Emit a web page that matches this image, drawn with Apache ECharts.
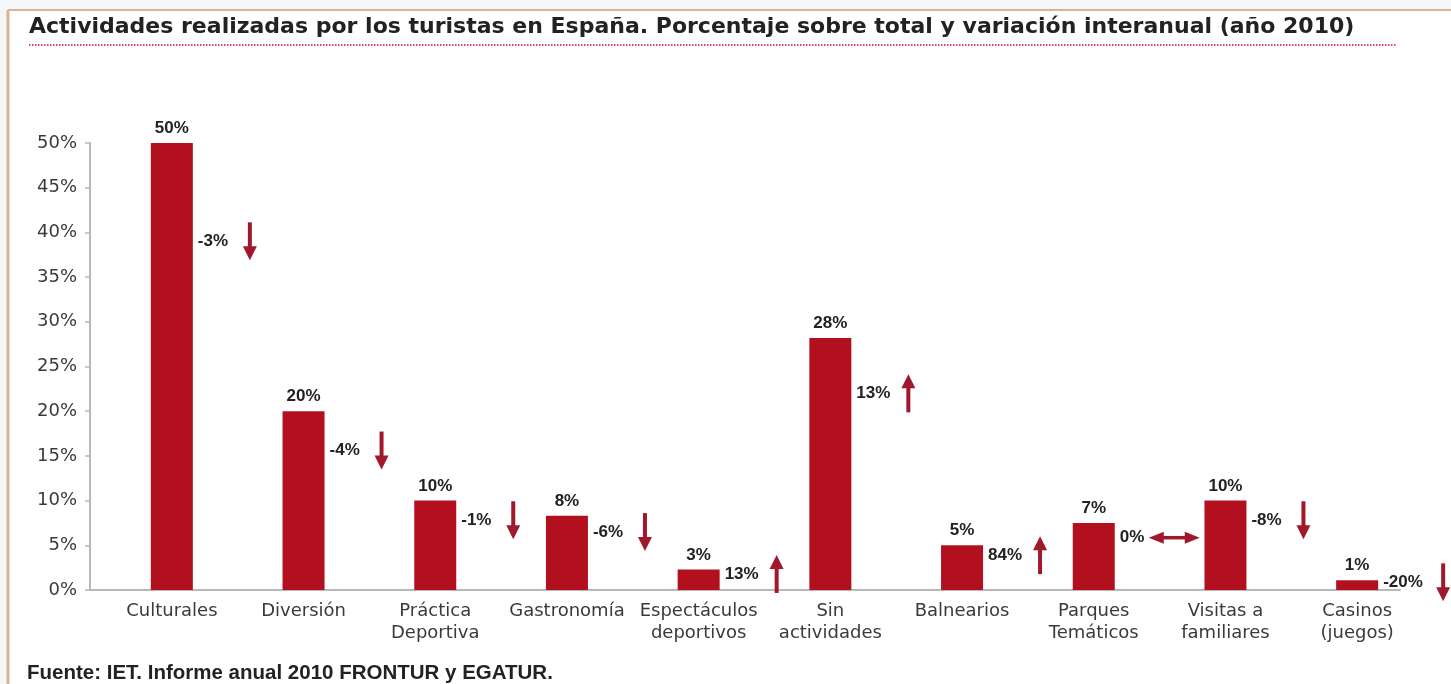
<!DOCTYPE html>
<html><head><meta charset="utf-8">
<script src="https://cdn.jsdelivr.net/npm/echarts@6/dist/echarts.min.js"></script>
<style>html,body{margin:0;padding:0;background:#fff}#c{width:1451px;height:684px}</style>
</head><body><div id="c"></div>
<script>
const categories = ['Culturales','Diversión','Práctica\nDeportiva','Gastronomía','Espectáculos\ndeportivos','Sin\nactividades','Balnearios','Parques\nTemáticos','Visitas a\nfamiliares','Casinos\n(juegos)'];
const shareValues = [50, 20, 10, 8.3, 2.3, 28.2, 5, 7.5, 10, 1.1];
const shareLabels = ['50%','20%','10%','8%','3%','28%','5%','7%','10%','1%'];
const changeLabels = ['-3%','-4%','-1%','-6%','13%','13%','84%','0%','-8%','-20%'];
const changeTrend = ['down','down','down','down','up','up','up','flat','down','down'];
const yMin = 0, yMax = 50, yStep = 5;

const BAR = '#b3101f', ARROW = '#a0182b', AXIS = '#b8b8b8';
const chart = echarts.init(document.getElementById('c'), null, {renderer:'canvas'});

function renderChange(params, api) {
  const i = api.value(0), v = api.value(1);
  const p = api.coord([i, v * 0.78]);
  const cx = p[0], cy = p[1];
  const txt = changeLabels[i];
  const tx = cx + 26;
  const children = [{
    type:'text',
    style:{x:tx, y:cy, text:txt, align:'left', verticalAlign:'middle',
      font:'bold 17px "Liberation Sans", Arial, sans-serif', fill:'#222'}
  }];
  const t = changeTrend[i];
  if (t === 'flat') {
    const a0 = tx + 29, a1 = a0 + 51;
    children.push({type:'line', shape:{x1:a0+10, y1:cy, x2:a1-10, y2:cy}, style:{stroke:ARROW, lineWidth:3.5}});
    children.push({type:'polygon', shape:{points:[[a0,cy],[a0+15,cy-6],[a0+15,cy+6]]}, style:{fill:ARROW}});
    children.push({type:'polygon', shape:{points:[[a1,cy],[a1-15,cy-6],[a1-15,cy+6]]}, style:{fill:ARROW}});
  } else {
    const ax = cx + 78 + (txt.length - 3) * 8;
    const dir = t === 'up' ? -1 : 1;
    const tip = cy + dir * 19, tail = cy - dir * 19;
    children.push({type:'line', shape:{x1:ax, y1:tail, x2:ax, y2:tip - dir*8}, style:{stroke:ARROW, lineWidth:4}});
    children.push({type:'polygon', shape:{points:[[ax,tip],[ax-7,tip-dir*14],[ax+7,tip-dir*14]]}, style:{fill:ARROW}});
  }
  return {type:'group', children};
}

const option = {
  backgroundColor:'#ffffff',
  animation:false,
  grid:[
    {left:106, right:28, top:143, bottom:94},
    {left:90, right:51, top:143, bottom:94}
  ],
  xAxis:[
    {type:'category', gridIndex:0, data:categories,
      axisLine:{show:false}, axisTick:{show:false},
      axisLabel:{interval:0, fontFamily:'DejaVu Sans', fontSize:18, color:'#3a3a3a', lineHeight:22, margin:10}},
    {type:'category', gridIndex:1, data:[''],
      axisLine:{show:true, lineStyle:{color:AXIS, width:2}}, axisTick:{show:false}, axisLabel:{show:false}}
  ],
  yAxis:[
    {type:'value', gridIndex:0, min:yMin, max:yMax, interval:yStep, offset:16,
      axisLine:{show:true, lineStyle:{color:AXIS, width:2}},
      axisTick:{show:true, length:5, lineStyle:{color:AXIS, width:1.5}},
      splitLine:{show:false},
      axisLabel:{formatter:'{value}%', fontFamily:'DejaVu Sans', fontSize:18, color:'#3a3a3a', margin:13}},
    {type:'value', gridIndex:1, min:0, max:1, show:false}
  ],
  series:[
    {type:'bar', xAxisIndex:0, yAxisIndex:0, data:shareValues, barWidth:42,
      itemStyle:{color:BAR},
      label:{show:true, position:'top', distance:6,
        formatter:p => shareLabels[p.dataIndex],
        fontFamily:'Liberation Sans', fontWeight:'bold', fontSize:17, color:'#222'}},
    {type:'custom', xAxisIndex:0, yAxisIndex:0, clip:false, z:5,
      data:shareValues.map((v,i)=>[i, v]),
      renderItem:renderChange}
  ],
  graphic:[
    {type:'rect', silent:true, shape:{x:0,y:0,width:1451,height:10}, style:{fill:'#f3f7f7'}},
    {type:'rect', silent:true, shape:{x:0,y:0,width:8,height:684}, style:{fill:'#f3f7f7'}},
    {type:'line', silent:true, shape:{x1:8,y1:10,x2:1451,y2:10}, style:{stroke:'#d9b48e', lineWidth:2}},
    {type:'line', silent:true, shape:{x1:8,y1:10,x2:8,y2:684}, style:{stroke:'#d9b48e', lineWidth:3}},
    {type:'text', silent:true, style:{x:29, y:27, text:'Actividades realizadas por los turistas en España. Porcentaje sobre total y variación interanual (año 2010)',
      font:'bold 22px "DejaVu Sans", sans-serif', fill:'#222', verticalAlign:'middle', align:'left'}},
    {type:'line', silent:true, shape:{x1:29,y1:45,x2:1397,y2:45}, style:{stroke:'#d4486a', lineWidth:2, lineDash:[1.5,1.5]}},
    {type:'text', silent:true, style:{x:27, y:673, text:'Fuente: IET. Informe anual 2010 FRONTUR y EGATUR.',
      font:'bold 20.5px "Liberation Sans", Arial, sans-serif', fill:'#222', verticalAlign:'middle', align:'left'}}
  ]
};
chart.setOption(option);
</script>
</body></html>
